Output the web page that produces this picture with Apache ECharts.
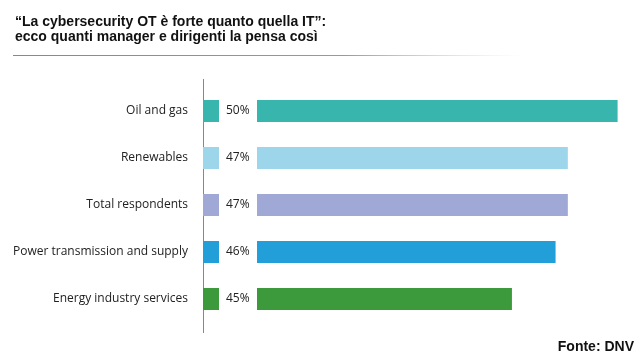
<!DOCTYPE html>
<html><head><meta charset="utf-8">
<script src="https://cdn.jsdelivr.net/npm/echarts@6/dist/echarts.min.js"></script>
<style>html,body{margin:0;padding:0;background:#fff}#c{width:644px;height:362px}</style>
</head><body><div id="c"></div>
<script>
const categories = ["Oil and gas", "Renewables", "Total respondents", "Power transmission and supply", "Energy industry services"];
const percentLabels = [50, 47, 47, 46, 45];
// bar lengths, relative to the longest bar (=100)
const barLengths = [100, 86.2, 86.2, 82.8, 70.7];
const colors = ["#38b6ad", "#9dd6ea", "#a0a8d6", "#229fd9", "#3c9a3d"];
const titleLines = ["\u201cLa cybersecurity OT \u00e8 forte quanto quella IT\u201d:", "ecco quanti manager e dirigenti la pensa cos\u00ec"];
const source = "Fonte: DNV";

const chart = echarts.init(document.getElementById('c'), null, {renderer: 'canvas'});
const font = "'Open Sans', 'Noto Sans', sans-serif";
const gridTop = 87.5, gridBottom = 362 - 322.5;
chart.setOption({
  animation: false,
  title: {
    text: titleLines.join('\n'), left: 10, top: 10,
    textStyle: {fontFamily: "'Liberation Sans', Arial, sans-serif", fontWeight: 'bold', fontSize: 14, lineHeight: 15, color: '#111'}
  },
  graphic: [
    {type: 'line', shape: {x1: 13, y1: 55.5, x2: 520, y2: 55.5},
     style: {lineWidth: 1, stroke: new echarts.graphic.LinearGradient(0, 0, 1, 0, [
       {offset: 0, color: '#888'}, {offset: 0.65, color: '#999'}, {offset: 1, color: 'rgba(200,200,200,0)'}])}},
    {type: 'line', shape: {x1: 203.5, y1: 79, x2: 203.5, y2: 333}, style: {lineWidth: 1, stroke: '#888'}},
    {type: 'text', right: 10, top: 340, style: {text: source, font: "bold 14px 'Liberation Sans', Arial, sans-serif", fill: '#111'}}
  ],
  grid: [
    {left: 203, width: 16, top: gridTop, bottom: gridBottom},
    {left: 257, right: 26.4, top: gridTop, bottom: gridBottom}
  ],
  xAxis: [
    {gridIndex: 0, type: 'value', min: 0, max: 1, show: false},
    {gridIndex: 1, type: 'value', min: 0, max: 100, show: false}
  ],
  yAxis: [
    {gridIndex: 0, type: 'category', data: categories, inverse: true,
     axisLine: {show: false}, axisTick: {show: false},
     axisLabel: {margin: 15, fontFamily: font, fontSize: 12, color: '#222'}},
    {gridIndex: 1, type: 'category', data: categories, inverse: true, show: false}
  ],
  series: [
    {type: 'bar', xAxisIndex: 0, yAxisIndex: 0, barWidth: 22,
     data: percentLabels.map((p, i) => ({value: 1, itemStyle: {color: colors[i]}})),
     label: {show: true, position: 'right', distance: 7, fontFamily: font, fontSize: 12, color: '#222',
       formatter: (p) => percentLabels[p.dataIndex] + '%'}},
    {type: 'bar', xAxisIndex: 1, yAxisIndex: 1, barWidth: 22,
     data: barLengths.map((v, i) => ({value: v, itemStyle: {color: colors[i]}}))}
  ]
});
</script></body></html>
